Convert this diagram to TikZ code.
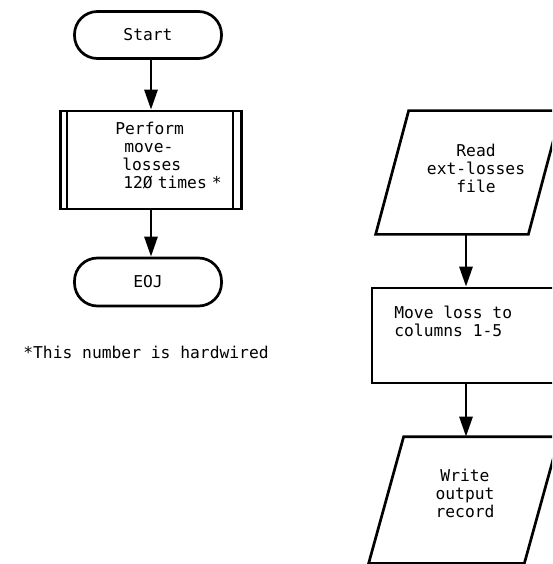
\documentclass[tikz,border=0pt]{standalone}
\usepackage{fontspec}
\setmonofont{DejaVu Sans Mono}
\usetikzlibrary{arrows.meta}
\begin{document}
\begin{tikzpicture}[x=1pt,y=-1pt,
  line width=2.7pt,
  font=\ttfamily\fontsize{16.3}{18}\selectfont,
  txt/.style={inner sep=0pt, align=left, anchor=west},
  txtc/.style={inner sep=0pt, align=center},
  term/.style={draw, rounded corners=23pt, minimum width=147pt, minimum height=47pt, inner sep=0pt},
  procbox/.style={draw, inner sep=0pt},
  iobox/.style={inner sep=0pt},
  flow/.style={-{Triangle[length=20pt,width=13pt]}, line width=2.8pt}]
\useasboundingbox (0,0) rectangle (552,564);
\clip (0,0) rectangle (552,564);
% left column
\node[term] (start) at (148,35) {Start};
\node[procbox, minimum width=181pt, minimum height=98pt] (perform) at (151,160) {};
\draw[line width=1.6pt] ([xshift=8pt]perform.north west) -- ([xshift=8pt]perform.south west);
\draw[line width=1.6pt] ([xshift=-10pt]perform.north east) -- ([xshift=-10pt]perform.south east);
\node[txt] (perfT) at (114,158) {\begin{tabular}{@{}l@{}}Perform\\\hspace*{9pt}move-\\\hspace*{7pt}losses\\\hspace*{8pt}12Ø\hspace{5pt}times\hspace{5pt}*\end{tabular}};
\node[term, minimum height=48pt] (eoj) at (148,282) {EOJ};
\draw[flow] (perform.north |- start.south) -- (perform.north);
\draw[flow] (perform.south) -- (perform.south |- eoj.north);
\node[txt] (note) at (22,352) {*This number is hardwired};
% right column
\node[iobox, minimum width=183pt, minimum height=121pt] (read) at (468.5,172.5) {};
\draw[line join=miter] (read.south west) -- ([xshift=-33pt]read.south east) -- (read.north east)
  -- ([xshift=33pt]read.north west) -- cycle;
\node[txtc] (readT) at (476,168) {Read\\ext-losses\\file};
\node[procbox, minimum width=188pt, minimum height=95pt] (move) at (466,335.5) {};
\node[txt] (moveT) at (393,321) {Move loss to\\columns 1-5};
\node[iobox, minimum width=188pt, minimum height=124pt] (write) at (464,500) {};
\draw[line join=miter] (write.south west) -- ([xshift=-35pt]write.south east) -- (write.north east)
  -- ([xshift=35pt]write.north west) -- cycle;
\node[txtc] (writeT) at (465,493) {Write\\output\\record};
\draw[flow] ([xshift=-2.5pt]read.south) -- (move.north);
\draw[flow] (move.south) -- (move.south |- write.north);
\end{tikzpicture}
\end{document}
